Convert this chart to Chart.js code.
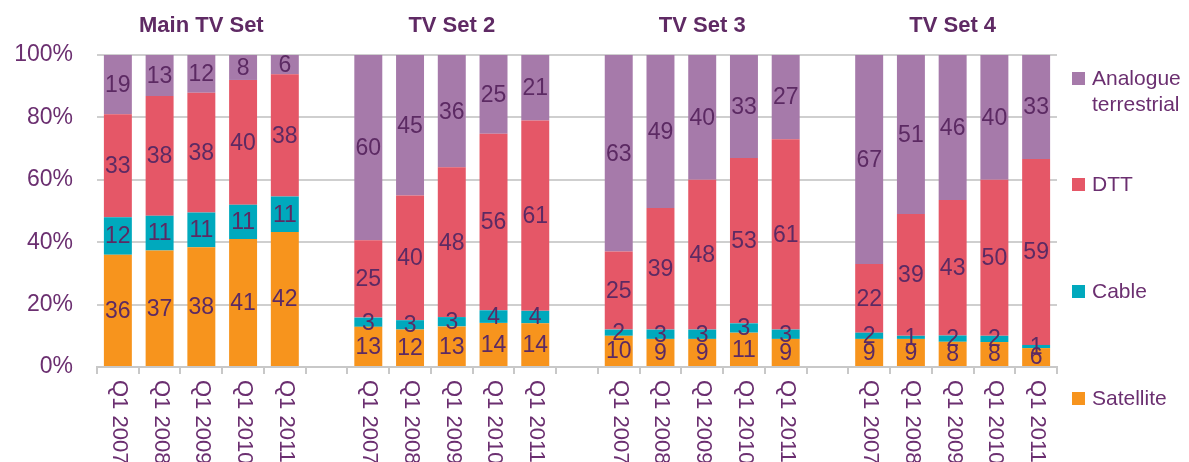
<!DOCTYPE html>
<html>
<head>
<meta charset="utf-8">
<script src="https://cdn.jsdelivr.net/npm/chart.js@4"></script>
<style>
  body { margin: 0; background: #fff; }
  #wrap { width: 1189px; height: 462px; }
</style>
</head>
<body>
<div id="wrap"><canvas id="myChart" width="1189" height="462"></canvas></div>
<script>
// 데이터
const groups = ['Main TV Set', 'TV Set 2', 'TV Set 3', 'TV Set 4'];
const quarters = ['Q1 2007', 'Q1 2008', 'Q1 2009', 'Q1 2010', 'Q1 2011'];
const satellite = [[36, 37, 38, 41, 42], [13, 12, 13, 14, 14], [10, 9, 9, 11, 9], [9, 9, 8, 8, 6]];
const cable = [[12, 11, 11, 11, 11], [3, 3, 3, 4, 4], [2, 3, 3, 3, 3], [2, 1, 2, 2, 1]];
const dtt = [[33, 38, 38, 40, 38], [25, 40, 48, 56, 61], [25, 39, 48, 53, 61], [22, 39, 43, 50, 59]];
const analogue = [[19, 13, 12, 8, 6], [60, 45, 36, 25, 21], [63, 49, 40, 33, 27], [67, 51, 46, 40, 33]];
const yTicks = ['0%', '20%', '40%', '60%', '80%', '100%'];

const textColor = '#6b2f70';
const font = '"Liberation Sans", Arial, sans-serif';

// 그룹 사이에 빈 칸을 넣어서 카테고리 만들기
const labels = [];
const groupCenters = [];
groups.forEach((g, gi) => {
    if (gi > 0) labels.push('');
    groupCenters.push(labels.length + 2);
    quarters.forEach(q => labels.push(q));
});

// 100% 누적 막대: 높이는 합계 대비 비율, 라벨은 원래 값
const allSeries = [satellite, cable, dtt, analogue];
function buildSeries(series) {
    const heights = [], raws = [];
    series.forEach((row, gi) => {
        if (gi > 0) { heights.push(null); raws.push(null); }
        row.forEach((v, i) => {
            const total = allSeries.reduce((s, arr) => s + arr[gi][i], 0);
            heights.push(v / total * 100);
            raws.push(v);
        });
    });
    return { heights, raws };
}

const seriesDefs = [
    { label: 'Satellite', data: satellite, color: '#f7941d' },
    { label: 'Cable', data: cable, color: '#00a9bd' },
    { label: 'DTT', data: dtt, color: '#e55767' },
    { label: 'Analogue terrestrial', data: analogue, color: '#a67aaa' }
];

const datasets = seriesDefs.map(s => {
    const b = buildSeries(s.data);
    return {
        label: s.label,
        data: b.heights,
        raw: b.raws,
        backgroundColor: s.color,
        barPercentage: 0.67,
        categoryPercentage: 1.0
    };
});

// 값 라벨, 제목, x축 라벨, 범례를 직접 그리는 플러그인
const drawExtras = {
    id: 'drawExtras',
    afterDatasetsDraw(chart) {
        const ctx = chart.ctx;
        ctx.save();
        ctx.fillStyle = '#5c2a63';
        ctx.font = '23px ' + font;
        ctx.textAlign = 'center';
        ctx.textBaseline = 'middle';
        chart.data.datasets.forEach((ds, di) => {
            const meta = chart.getDatasetMeta(di);
            meta.data.forEach((el, i) => {
                if (ds.raw[i] == null) return;
                ctx.fillText(String(ds.raw[i]), el.x, (el.y + el.base) / 2 + 1);
            });
        });
        ctx.restore();
    },
    afterDraw(chart) {
        const ctx = chart.ctx;
        const xs = chart.scales.x;
        ctx.save();
        ctx.fillStyle = '#5f2a64';

        // 그룹 제목
        ctx.font = 'bold 22px ' + font;
        ctx.textAlign = 'center';
        ctx.textBaseline = 'middle';
        groups.forEach((g, gi) => {
            ctx.fillText(g, xs.getPixelForValue(groupCenters[gi]), 26);
        });

        // x축 라벨 (시계 방향 90도 회전)
        ctx.fillStyle = textColor;
        ctx.font = '22px ' + font;
        ctx.textAlign = 'left';
        ctx.textBaseline = 'middle';
        labels.forEach((l, i) => {
            if (!l) return;
            ctx.save();
            ctx.translate(xs.getPixelForValue(i) + 1, 380);
            ctx.rotate(Math.PI / 2);
            ctx.fillText(l, 0, 0);
            ctx.restore();
        });

        // 범례
        const legend = [
            { text: ['Analogue', 'terrestrial'], color: '#a67aaa', y: 79 },
            { text: ['DTT'], color: '#e55767', y: 185 },
            { text: ['Cable'], color: '#00a9bd', y: 292 },
            { text: ['Satellite'], color: '#f7941d', y: 399 }
        ];
        ctx.font = '21px ' + font;
        legend.forEach(item => {
            ctx.fillStyle = item.color;
            ctx.fillRect(1072, item.y - 7, 13, 13);
            ctx.fillStyle = textColor;
            item.text.forEach((t, k) => ctx.fillText(t, 1092, item.y + k * 26));
        });
        ctx.restore();
    }
};

const ctx = document.getElementById('myChart').getContext('2d');
const myChart = new Chart(ctx, {
    type: 'bar',
    data: { labels: labels, datasets: datasets },
    options: {
        responsive: false,
        animation: false,
        layout: { padding: { top: 55, right: 132, bottom: 95, left: 0 } },
        plugins: { legend: { display: false }, tooltip: { enabled: false } },
        scales: {
            x: {
                stacked: true,
                afterFit: s => { s.height = 0; },
                ticks: { display: false },
                grid: { drawOnChartArea: false, color: '#c8c8c8', lineWidth: 2, tickLength: 7, offset: true },
                border: { color: '#c8c8c8', width: 2 }
            },
            y: {
                stacked: true,
                min: 0,
                max: 100,
                afterFit: s => { s.width = 97; },
                ticks: {
                    stepSize: 20,
                    padding: 24,
                    color: textColor,
                    font: { size: 23, family: font },
                    callback: (v) => yTicks[v / 20]
                },
                grid: { color: '#cfcfcf', lineWidth: 2, drawTicks: false },
                border: { display: false }
            }
        }
    },
    plugins: [drawExtras]
});
</script>
</body>
</html>
